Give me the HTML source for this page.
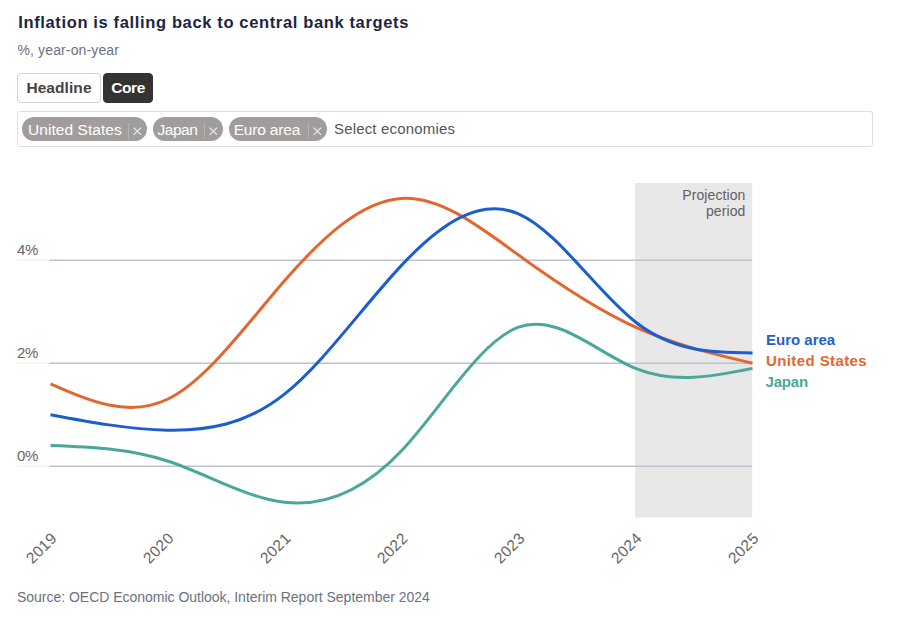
<!DOCTYPE html>
<html><head><meta charset="utf-8">
<style>
html,body{margin:0;padding:0;background:#fff;}
body{width:900px;height:630px;position:relative;overflow:hidden;font-family:"Liberation Sans",sans-serif;}
.abs{position:absolute;white-space:nowrap;}
#title{left:18.2px;top:12.4px;font-size:16.5px;font-weight:bold;color:#1b2543;line-height:20px;letter-spacing:0.64px;}
#sub{left:17.5px;top:41px;font-size:14px;color:#6a7182;line-height:18px;letter-spacing:0.13px;}
.btn{top:73px;height:30px;box-sizing:border-box;border-radius:4px;font-size:15.5px;font-weight:bold;line-height:28px;text-align:center;}
#b1{left:17px;width:84px;border:1px solid #d4d4d4;background:#fff;color:#444;letter-spacing:0.08px;}
#b2{left:103px;width:50px;border:1px solid #333;background:#333;color:#fff;letter-spacing:-0.4px;}
#sel{left:17px;top:111px;width:856px;height:36px;box-sizing:border-box;border:1px solid #dedede;border-radius:3px;background:#fff;}
.chip{top:116.5px;height:24.5px;border-radius:12.5px;background:#a19d9c;color:#fff;font-size:15.5px;line-height:26px;box-sizing:border-box;padding-left:6px;}
.chip i{position:absolute;top:6px;bottom:2.2px;width:1px;background:#b6b3b2;}
.chip svg{position:absolute;top:10.3px;}
#ph{left:334px;top:120px;font-size:15px;line-height:18px;color:#555;letter-spacing:0.17px;}
#src{left:17px;top:588px;font-size:14px;color:#6a7182;line-height:18px;letter-spacing:-0.02px;}
svg text{font-family:"Liberation Sans",sans-serif;}
.xl{font-size:15.5px;fill:#666;letter-spacing:0.3px;}
.yl{font-size:15px;fill:#666;letter-spacing:-0.3px;}
.lg{font-size:15px;font-weight:bold;}
</style></head><body>
<div id="title" class="abs">Inflation is falling back to central bank targets</div>
<div id="sub" class="abs">%, year-on-year</div>
<div id="b1" class="abs btn">Headline</div>
<div id="b2" class="abs btn">Core</div>
<div id="sel" class="abs"></div>
<div class="abs chip" style="left:22px;width:125px;letter-spacing:0.06px;padding-left:6px">United States<i style="left:106px"></i><svg style="left:111.2px" width="8.7" height="8.5" viewBox="0 0 8 8" preserveAspectRatio="none"><path d="M0.6,0.6L7.4,7.4M7.4,0.6L0.6,7.4" stroke="#efeeee" stroke-width="1.05" fill="none"/></svg></div>
<div class="abs chip" style="left:153px;width:69.5px;letter-spacing:-0.5px;padding-left:4.6px">Japan<i style="left:50.5px"></i><svg style="left:55.7px" width="8.7" height="8.5" viewBox="0 0 8 8" preserveAspectRatio="none"><path d="M0.6,0.6L7.4,7.4M7.4,0.6L0.6,7.4" stroke="#efeeee" stroke-width="1.05" fill="none"/></svg></div>
<div class="abs chip" style="left:228.5px;width:98.5px;letter-spacing:-0.18px;padding-left:5.2px">Euro area<i style="left:79.5px"></i><svg style="left:84.7px" width="8.7" height="8.5" viewBox="0 0 8 8" preserveAspectRatio="none"><path d="M0.6,0.6L7.4,7.4M7.4,0.6L0.6,7.4" stroke="#efeeee" stroke-width="1.05" fill="none"/></svg></div>

<div id="ph" class="abs">Select economies</div>
<svg class="abs" style="left:0;top:0" width="900" height="630" viewBox="0 0 900 630">
<rect x="635" y="183" width="117.2" height="334.5" fill="#e8e8e8"/>
<text x="745.5" y="199.5" text-anchor="end" font-size="14" fill="#606060" letter-spacing="0.1">Projection</text>
<text x="745.5" y="215.8" text-anchor="end" font-size="14" fill="#606060" letter-spacing="0.1">period</text>
<g stroke="#f0f0f0" stroke-width="1.3">
<line x1="17" x2="50" y1="260.2" y2="260.2"/>
<line x1="17" x2="50" y1="363.2" y2="363.2"/>
<line x1="17" x2="50" y1="466.2" y2="466.2"/>
</g>
<g stroke="#bcc4cf" stroke-width="1.5">
<line x1="49.5" x2="752" y1="260.2" y2="260.2"/>
<line x1="49.5" x2="752" y1="363.2" y2="363.2"/>
<line x1="49.5" x2="752" y1="466.2" y2="466.2"/>
</g>
<text class="yl" x="17" y="255.3">4%</text>
<text class="yl" x="17" y="358.3">2%</text>
<text class="yl" x="17" y="461.3">0%</text>
<g fill="none" stroke-width="3" stroke-linecap="butt">
<path d="M50.50,445.60C89.50,446.99,128.50,448.39,167.50,461.05C206.50,473.71,245.50,497.65,284.50,502.25C323.50,506.85,362.50,492.12,401.50,450.75C440.50,409.38,479.50,341.37,518.50,327.15C557.50,312.93,596.50,352.52,635.50,368.35C674.50,384.18,713.50,376.27,752.50,368.35" stroke="#4aa79b"/>
<path d="M50.50,383.80C89.50,400.92,128.50,418.05,167.50,399.25C206.50,380.45,245.50,325.74,284.50,280.80C323.50,235.86,362.50,200.69,401.50,198.40C440.50,196.11,479.50,226.70,518.50,255.05C557.50,283.40,596.50,309.50,635.50,327.15C674.50,344.80,713.50,354.00,752.50,363.20" stroke="#e2672f"/>
<path d="M50.50,414.70C89.50,422.04,128.50,429.38,167.50,430.15C206.50,430.92,245.50,425.11,284.50,394.10C323.50,363.09,362.50,306.89,401.50,265.35C440.50,223.81,479.50,196.92,518.50,213.85C557.50,230.78,596.50,291.52,635.50,322.00C674.50,352.48,713.50,352.69,752.50,352.90" stroke="#1c5ecc"/>
</g>
<text class="lg" x="766" y="345" fill="#2460c8">Euro area</text>
<text class="lg" x="766" y="366.2" fill="#e2672f" letter-spacing="0.4">United States</text>
<text class="lg" x="765.5" y="386.8" fill="#4aa79b" letter-spacing="-0.2">Japan</text>
<text class="xl" transform="translate(57.7,539.3) rotate(-45)" x="0" y="0" text-anchor="end">2019</text>
<text class="xl" transform="translate(174.7,539.3) rotate(-45)" x="0" y="0" text-anchor="end">2020</text>
<text class="xl" transform="translate(291.7,539.3) rotate(-45)" x="0" y="0" text-anchor="end">2021</text>
<text class="xl" transform="translate(408.7,539.3) rotate(-45)" x="0" y="0" text-anchor="end">2022</text>
<text class="xl" transform="translate(525.7,539.3) rotate(-45)" x="0" y="0" text-anchor="end">2023</text>
<text class="xl" transform="translate(642.7,539.3) rotate(-45)" x="0" y="0" text-anchor="end">2024</text>
<text class="xl" transform="translate(759.7,539.3) rotate(-45)" x="0" y="0" text-anchor="end">2025</text>

</svg>
<div id="src" class="abs">Source: OECD Economic Outlook, Interim Report September 2024</div>
</body></html>
